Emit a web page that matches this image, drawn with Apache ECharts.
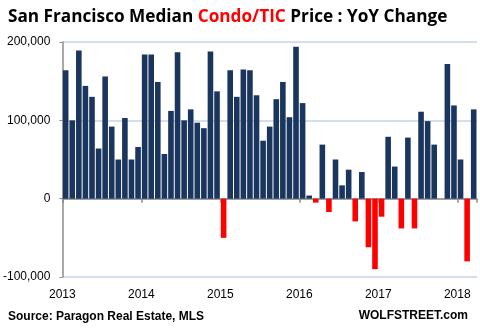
<!DOCTYPE html>
<html>
<head>
<meta charset="utf-8">
<script src="https://cdn.jsdelivr.net/npm/echarts@6/dist/echarts.min.js"></script>
<style>html,body{margin:0;padding:0;background:#fff}#c{width:480px;height:328px}</style>
</head>
<body>
<div id="c"></div>
<script>
// Monthly YoY change, Jan 2013 .. Mar 2018
var startYear = 2013;
var yearLabels = ['2013', '2014', '2015', '2016', '2017', '2018'];
var yoyChange = [
  164000, 100000, 189000, 144000, 130000, 64000, 156000, 92000, 50000, 103000, 50000, 66000,
  184000, 184000, 149000, 57000, 112000, 187000, 100000, 114000, 97000, 90000, 188000, 137000,
  -50000, 164000, 130000, 165000, 164000, 132000, 74000, 92000, 127000, 149000, 104000, 194000,
  122000, 4000, -5000, 69000, -17000, 50000, 17000, 37000, -29000, 34000, -62000, -90000,
  -23000, 79000, 41000, -38000, 78000, -38000, 111000, 99000, 69000, 0, 172000, 119000,
  50000, -80000, 114000
];
var yTicks = [-100000, 0, 100000, 200000];

var FONT = '"Liberation Sans", Arial, sans-serif';
var BLUE = '#1b365e', RED = '#ff0000';

var barData = yoyChange.map(function (v, i) { return [i + 0.5, v]; });

var chart = echarts.init(document.getElementById('c'), null, {renderer: 'canvas'});
chart.setOption({
  animation: false,
  backgroundColor: '#fff',
  title: [{
    text: '{a|San Francisco Median }{r|Condo/TIC}{a| Price : YoY Change}',
    left: 3, top: 4,
    textStyle: {
      rich: {
        a: {fontFamily: '"Open Sans", sans-serif', fontWeight: 'bold', fontSize: 17.2, color: '#000'},
        r: {fontFamily: '"Open Sans", sans-serif', fontWeight: 'bold', fontSize: 17.2, color: RED}
      }
    }
  }, {
    text: 'Source: Paragon Real Estate, MLS',
    left: 3, top: 306,
    textStyle: {fontFamily: FONT, fontWeight: 'bold', fontSize: 12, color: '#000'}
  }, {
    text: 'WOLFSTREET.com',
    right: 7, top: 305,
    textStyle: {fontFamily: FONT, fontWeight: 'bold', fontSize: 12, color: '#000'}
  }],
  grid: {left: 61, right: 3, top: 42, bottom: 51, containLabel: false},
  xAxis: [{
    type: 'value', min: 0, max: yearLabels.length * 12 - 9, interval: 12,
    position: 'bottom',
    axisLine: {show: true, onZero: true, lineStyle: {color: '#8c8c8c', width: 1.5}},
    axisTick: {show: true, length: 4, lineStyle: {color: '#8c8c8c', width: 1.5}},
    axisLabel: {show: false},
    splitLine: {show: false}
  }, {
    type: 'value', min: 0, max: yearLabels.length * 12 - 9, interval: 12,
    position: 'bottom',
    axisLine: {show: false, onZero: false},
    axisTick: {show: false},
    splitLine: {show: false},
    axisLabel: {
      show: true, margin: 12, showMaxLabel: false,
      fontFamily: FONT, fontSize: 12, color: '#000',
      formatter: function (v) { var k = Math.round(v / 12); return yearLabels[k] || ''; }
    }
  }],
  yAxis: {
    type: 'value', min: yTicks[0], max: yTicks[yTicks.length - 1], interval: 100000,
    axisLine: {show: true, lineStyle: {color: '#8c8c8c', width: 1.5}},
    axisTick: {show: true, length: 3, lineStyle: {color: '#8c8c8c'}},
    splitLine: {show: true, lineStyle: {color: '#c6d3e6', width: 1.5}},
    axisLabel: {
      margin: 12, fontFamily: FONT, fontSize: 12, color: '#000',
      formatter: function (v) { return echarts.format.addCommas(v); }
    }
  },
  series: [{
    type: 'bar',
    xAxisIndex: 0,
    barWidth: 5.6,
    data: barData,
    itemStyle: {
      color: function (p) { return p.value[1] < 0 ? RED : BLUE; }
    }
  }]
});
</script>
</body>
</html>
